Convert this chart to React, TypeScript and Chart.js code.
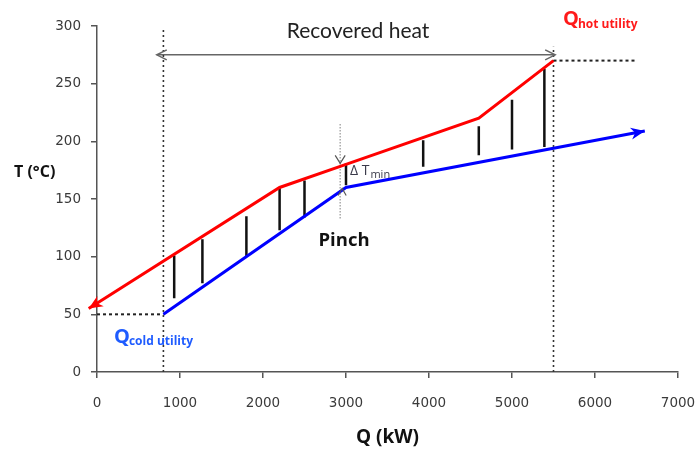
import React, { useEffect, useRef } from 'react';
import { Chart, registerables } from 'chart.js';

Chart.register(...registerables);

// ---- data ----
const hotQ = [-100, 2200, 3000, 4600, 5500];
const hotT = [55, 160, 180, 220, 270];
const coldQ = [800, 3000, 6600];
const coldT = [50, 160, 209];
const exchangeQ = [930, 1270, 1800, 2200, 2500, 3000, 3930, 4600, 5000, 5390];
const exchangeTop = [101, 115, 135, 160, 166, 181, 201, 213, 236, 263];
const exchangeBottom = [64, 77, 100, 123, 134, 162, 178, 188, 193, 195];
const coldUtilityQ = 800;
const coldUtilityT = 50;
const coldGuideTopT = 298;
const hotUtilityQ = 5500;
const hotUtilityT = 270;
const hotGuideTopT = 282;
const hotUtilityEndQ = 6500;
const recoveredQ = [720, 5520];
const recoveredT = 275;
const pinchGuideQ = 2930;
const pinchGuideT = [133, 216];
const pinchHotT = 180;
const pinchColdT = 160;
const qTicks = [0, 1000, 2000, 3000, 4000, 5000, 6000, 7000];
const tTicks = [0, 50, 100, 150, 200, 250, 300];

const pts = (xs: number[], ys: number[]) => xs.map((x, i) => ({ x, y: ys[i] }));

function filledArrow(ctx: CanvasRenderingContext2D, fx: number, fy: number, tx: number, ty: number, color: string, len: number, half: number) {
  const a = Math.atan2(ty - fy, tx - fx);
  const bx = tx - len * Math.cos(a);
  const by = ty - len * Math.sin(a);
  const nx = -Math.sin(a), ny = Math.cos(a);
  const mx = tx - len * 0.7 * Math.cos(a);
  const my = ty - len * 0.7 * Math.sin(a);
  ctx.beginPath();
  ctx.moveTo(tx, ty);
  ctx.lineTo(bx + nx * half, by + ny * half);
  ctx.lineTo(mx, my);
  ctx.lineTo(bx - nx * half, by - ny * half);
  ctx.closePath();
  ctx.fillStyle = color;
  ctx.fill();
}

function chevron(ctx: CanvasRenderingContext2D, tx: number, ty: number, angle: number, len: number, half: number, color: string, w: number) {
  const bx = tx - len * Math.cos(angle);
  const by = ty - len * Math.sin(angle);
  const nx = -Math.sin(angle), ny = Math.cos(angle);
  ctx.beginPath();
  ctx.moveTo(bx + nx * half, by + ny * half);
  ctx.lineTo(tx, ty);
  ctx.lineTo(bx - nx * half, by - ny * half);
  ctx.strokeStyle = color;
  ctx.lineWidth = w;
  ctx.stroke();
}

const overlay = {
  id: 'overlay',
  afterDatasetsDraw(chart: any) {
    const { ctx, scales } = chart;
    const px = (q: number) => scales.x.getPixelForValue(q);
    const py = (t: number) => scales.y.getPixelForValue(t);
    ctx.save();

    // stream arrowheads
    filledArrow(ctx, px(hotQ[1]), py(hotT[1]), px(hotQ[0]), py(hotT[0]), '#ff0000', 14, 6);
    const n = coldQ.length;
    filledArrow(ctx, px(coldQ[n - 2]), py(coldT[n - 2]), px(coldQ[n - 1]), py(coldT[n - 1]), '#0000ff', 14, 6);

    // recovered heat chevrons
    chevron(ctx, px(recoveredQ[0]), py(recoveredT), Math.PI, 10, 5, '#666', 1.5);
    chevron(ctx, px(recoveredQ[1]), py(recoveredT), 0, 10, 5, '#666', 1.5);

    // pinch chevrons
    chevron(ctx, px(pinchGuideQ), py(pinchHotT) - 1, Math.PI / 2, 8, 5, '#555', 1.2);
    chevron(ctx, px(pinchGuideQ) + 2, py(pinchColdT) + 1, -Math.PI / 2, 7, 4, '#555', 1.2);

    // texts
    ctx.textBaseline = 'alphabetic';
    ctx.fillStyle = '#222';
    ctx.font = '21px Lato';
    ctx.textAlign = 'center';
    ctx.fillText('Recovered heat', px(3145), py(289.5));

    ctx.font = 'bold 18.5px "Open Sans"';
    ctx.fillStyle = '#111';
    ctx.textBaseline = 'middle';
    ctx.fillText('Pinch', px(2976), py(113.5));

    ctx.textAlign = 'left';
    ctx.textBaseline = 'alphabetic';
    ctx.fillStyle = '#3a3a4a';
    ctx.font = '14px "Open Sans"';
    ctx.fillText('Δ T', px(3048), py(170.8));
    const wT = ctx.measureText('Δ T').width;
    ctx.font = '11px "Open Sans"';
    ctx.fillText('min', px(3048) + wT + 1, py(168.5));

    ctx.fillStyle = '#111';
    ctx.font = 'bold 16px "Open Sans"';
    ctx.textBaseline = 'middle';
    ctx.fillText('T (°C)', px(-1000), py(173));

    // Q hot utility
    ctx.textBaseline = 'alphabetic';
    ctx.fillStyle = '#ff1a1a';
    ctx.font = 'bold 20px "Open Sans"';
    ctx.fillText('Q', px(5614), py(301));
    let wq = ctx.measureText('Q').width;
    ctx.font = 'bold 12px "Open Sans"';
    ctx.fillText('hot utility', px(5614) + wq - 1, py(298.5));

    // Q cold utility
    ctx.fillStyle = '#1f5cff';
    ctx.font = 'bold 20px "Open Sans"';
    ctx.fillText('Q', px(205), py(25));
    wq = ctx.measureText('Q').width;
    ctx.font = 'bold 12px "Open Sans"';
    ctx.fillText('cold utility', px(205) + wq - 1, py(23));

    ctx.restore();
  },
};

export default function App() {
  const ref = useRef<HTMLCanvasElement | null>(null);
  useEffect(() => {
    document.body.style.margin = '0';
    const canvas = ref.current;
    if (!canvas) return;

    const exchangeData: any[] = [];
    exchangeQ.forEach((q, i) => {
      exchangeData.push({ x: q, y: exchangeTop[i] }, { x: q, y: exchangeBottom[i] }, { x: q, y: null });
    });

    const base = { pointRadius: 0, pointHoverRadius: 0, fill: false, tension: 0 };

    const chart = new Chart(canvas, {
      type: 'line',
      data: {
        datasets: [
          { ...base, label: 'Hot composite', data: pts(hotQ, hotT), borderColor: '#ff0000', borderWidth: 3, order: 1, clip: false as any },
          { ...base, label: 'Cold composite', data: pts(coldQ, coldT), borderColor: '#0000ff', borderWidth: 3, order: 2, clip: false as any },
          { ...base, label: 'Exchange', data: exchangeData, borderColor: '#111', borderWidth: 2.5, spanGaps: false, order: 3 },
          { ...base, label: 'Cold guide', data: [{ x: coldUtilityQ, y: 0 }, { x: coldUtilityQ, y: coldGuideTopT }], borderColor: '#333', borderWidth: 1.6, borderDash: [2, 3], order: 5, clip: false as any },
          { ...base, label: 'Hot guide', data: [{ x: hotUtilityQ, y: 0 }, { x: hotUtilityQ, y: hotGuideTopT }], borderColor: '#333', borderWidth: 1.6, borderDash: [2, 3], order: 5, clip: false as any },
          { ...base, label: 'Cold level', data: [{ x: 0, y: coldUtilityT }, { x: coldUtilityQ, y: coldUtilityT }], borderColor: '#222', borderWidth: 2, borderDash: [3, 3], order: 5 },
          { ...base, label: 'Hot level', data: [{ x: hotUtilityQ, y: hotUtilityT }, { x: hotUtilityEndQ, y: hotUtilityT }], borderColor: '#222', borderWidth: 2, borderDash: [3, 3], order: 5 },
          { ...base, label: 'Recovered', data: [{ x: recoveredQ[0], y: recoveredT }, { x: recoveredQ[1], y: recoveredT }], borderColor: '#666', borderWidth: 1.5, order: 6 },
          { ...base, label: 'Pinch guide', data: [{ x: pinchGuideQ, y: pinchGuideT[0] }, { x: pinchGuideQ, y: pinchGuideT[1] }], borderColor: '#aaa', borderWidth: 1.5, borderDash: [1.5, 1.5], order: 7 },
        ],
      },
      options: {
        responsive: false,
        animation: false,
        events: [],
        layout: { padding: { left: 0, top: 26, right: 19, bottom: 0 } },
        plugins: { legend: { display: false }, tooltip: { enabled: false }, title: { display: false } },
        scales: {
          x: {
            type: 'linear',
            min: 0,
            max: 7000,
            afterBuildTicks: (s: any) => { s.ticks = qTicks.map((v) => ({ value: v })); },
            afterFit: (s: any) => { s.height = 78; s.paddingLeft = 0; s.paddingRight = 0; },
            grid: { display: true, drawOnChartArea: false, drawTicks: true, tickLength: 6, color: '#555', lineWidth: 1.5 },
            border: { display: true, color: '#555', width: 1.5 },
            ticks: { color: '#3a3a3a', font: { family: 'DejaVu Sans', size: 13.5 }, padding: 17, maxRotation: 0, autoSkip: false, callback: (v: any) => String(v) },
            title: { display: true, text: 'Q (kW)', color: '#111', font: { family: 'Open Sans', size: 19, weight: 'bold' }, padding: { top: 0, bottom: 1 } },
          },
          y: {
            type: 'linear',
            min: 0,
            max: 300,
            afterBuildTicks: (s: any) => { s.ticks = tTicks.map((v) => ({ value: v })); },
            afterFit: (s: any) => { s.width = 97; s.paddingTop = 0; s.paddingBottom = 0; },
            grid: { display: true, drawOnChartArea: false, drawTicks: true, tickLength: 6, color: '#555', lineWidth: 1.5 },
            border: { display: true, color: '#555', width: 1.5 },
            ticks: { color: '#3a3a3a', font: { family: 'DejaVu Sans', size: 13.5 }, padding: 10, autoSkip: false, callback: (v: any) => String(v) },
          },
        },
      } as any,
      plugins: [overlay],
    });
    return () => chart.destroy();
  }, []);

  return (
    <div style={{ width: 697, height: 450, background: '#fff' }}>
      <canvas ref={ref} width={697} height={450} style={{ display: 'block' }} />
    </div>
  );
}
